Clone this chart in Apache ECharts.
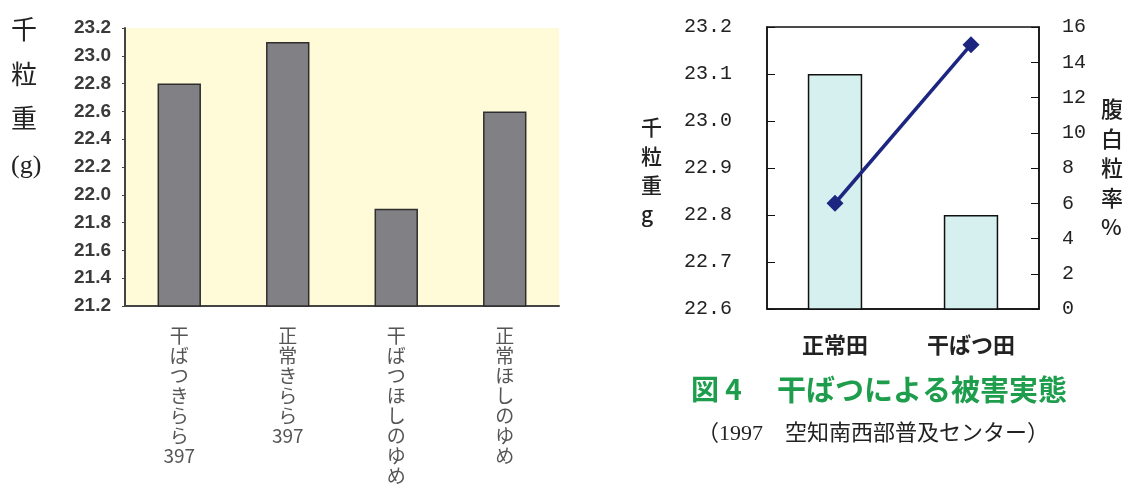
<!DOCTYPE html>
<html>
<head>
<meta charset="utf-8">
<script src="https://cdn.jsdelivr.net/npm/echarts@6/dist/echarts.min.js"></script>
<style>
  html, body { margin: 0; padding: 0; background: #fff; }
  #main { width: 1129px; height: 486px; }
</style>
</head>
<body>
<div id="main"></div>
<script>
// 左：品種・圃場別の千粒重
const leftCats = ['干ばつきらら397', '正常きらら397', '干ばつほしのゆめ', '正常ほしのゆめ'];
const leftWeights = [22.8, 23.1, 21.9, 22.6];

// 右：正常田と干ばつ田
const rightCats = ['正常田', '干ばつ田'];
const rightWeights = [23.1, 22.8];
const rightWhiteRate = [6, 15];

const jp = '"Noto Sans CJK JP", sans-serif';

// 縦書きラベル（数字はまとめて1行）
const vertical = (v) => v.match(/\d+|./g).join('\n');

let options = {
  animation: false,
  grid: [
    { left: 125, top: 28, width: 434, height: 278, show: true, backgroundColor: '#fffbd8', borderWidth: 0 },
    { left: 767, top: 27, width: 272, height: 282, show: true, backgroundColor: '#fff', borderColor: '#111', borderWidth: 1.5 }
  ],
  xAxis: [
    {
      type: 'category', gridIndex: 0, data: leftCats,
      axisLine: { lineStyle: { color: '#444', width: 2 } },
      axisTick: { inside: true, length: 6, lineStyle: { color: '#444', width: 2 } },
      axisLabel: {
        formatter: vertical, interval: 0, margin: 20,
        fontFamily: jp, fontSize: 19, lineHeight: 20, color: '#555'
      }
    },
    {
      type: 'category', gridIndex: 1, data: rightCats,
      axisLine: { lineStyle: { color: '#111', width: 1.5 } },
      axisTick: { inside: true, length: 5, lineStyle: { color: '#111' } },
      axisLabel: { margin: 25, fontFamily: jp, fontSize: 22, fontWeight: 'bold', color: '#222' }
    }
  ],
  yAxis: [
    {
      type: 'value', gridIndex: 0, min: 21.2, max: 23.2, interval: 0.2,
      splitLine: { show: false },
      axisLine: { show: true, lineStyle: { color: '#444', width: 2 } },
      axisTick: { show: true, length: 3, lineStyle: { color: '#444' } },
      axisLabel: {
        formatter: (v) => v.toFixed(1), margin: 14,
        fontFamily: '"Liberation Sans", Arial, sans-serif', fontSize: 19, fontWeight: 'bold', color: '#3a3a3a'
      }
    },
    {
      type: 'value', gridIndex: 1, min: 22.6, max: 23.2, interval: 0.1,
      splitLine: { show: false },
      axisLine: { show: true, lineStyle: { color: '#111', width: 1.5 } },
      axisTick: { show: true, inside: true, length: 8, lineStyle: { color: '#111' } },
      axisLabel: {
        formatter: (v) => v.toFixed(1), margin: 35,
        fontFamily: '"Liberation Mono", monospace', fontSize: 20, color: '#222'
      }
    },
    {
      type: 'value', gridIndex: 1, position: 'right', min: 0, max: 16, interval: 2,
      splitLine: { show: false },
      axisLine: { show: true, lineStyle: { color: '#111', width: 1.5 } },
      axisTick: { show: true, inside: true, length: 8, lineStyle: { color: '#111' } },
      axisLabel: { margin: 23, fontFamily: '"Liberation Mono", monospace', fontSize: 20, color: '#222' }
    }
  ],
  series: [
    {
      type: 'bar', xAxisIndex: 0, yAxisIndex: 0, data: leftWeights, barWidth: '40%',
      itemStyle: { color: '#818185', borderColor: '#2e2e2e', borderWidth: 1.5 }
    },
    {
      type: 'bar', xAxisIndex: 1, yAxisIndex: 1, data: rightWeights, barWidth: '40%',
      itemStyle: { color: '#d6f0f0', borderColor: '#111', borderWidth: 1.5 }
    },
    {
      type: 'line', xAxisIndex: 1, yAxisIndex: 2, data: rightWhiteRate,
      symbol: 'diamond', symbolSize: 17,
      lineStyle: { color: '#1c2680', width: 3.5 },
      itemStyle: { color: '#1c2680' }
    }
  ],
  graphic: [
    // 左の軸名
    { type: 'text', left: 11, top: 10, style: { text: '千\n粒\n重\n(g)', font: '26px "Liberation Serif", ' + jp, lineHeight: 44.5, fill: '#222', align: 'center' } },
    // 右の軸名
    { type: 'text', left: 641, top: 113, style: { text: '千\n粒\n重\ng', font: '500 21px ' + jp, lineHeight: 29, fill: '#222', align: 'center' } },
    { type: 'text', left: 1101, top: 94, style: { text: '腹\n白\n粒\n率\n%', font: '500 22px ' + jp, lineHeight: 29.5, fill: '#222', align: 'center' } },
    // 図のタイトル
    { type: 'text', left: 691, top: 375, style: { text: '図 4', font: 'bold 28px ' + jp, fill: '#1e9e4c' } },
    { type: 'text', left: 777, top: 375, style: { text: '干ばつによる被害実態', font: 'bold 29px ' + jp, fill: '#1e9e4c' } },
    { type: 'text', left: 697, top: 423, style: { text: '（1997　空知南西部普及センター）', font: '22px "Liberation Serif", ' + jp, fill: '#222' } }
  ]
};

let myChart = echarts.init(document.getElementById('main'));
myChart.setOption(options);
</script>
</body>
</html>
